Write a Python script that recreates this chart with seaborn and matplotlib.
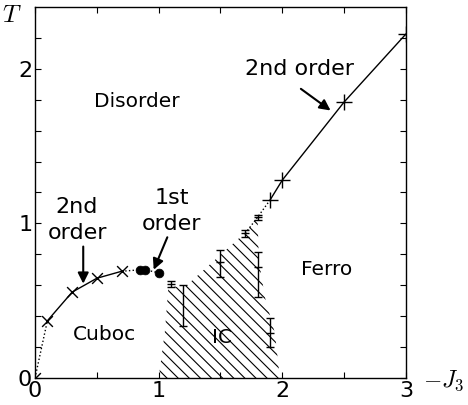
import numpy as np
import pandas as pd
import matplotlib
matplotlib.use("Agg")
import matplotlib.pyplot as plt
import seaborn as sns

# ---- data ----
cuboc_J = [0.0, 0.1, 0.3, 0.5, 0.7]
cuboc_T = [0.0, 0.37, 0.555, 0.645, 0.69]
first_J = [0.85, 0.89, 1.0]
first_T = [0.70, 0.70, 0.68]
ferro_J = [1.9, 2.0, 2.5, 3.0]
ferro_T = [1.15, 1.28, 1.785, 2.225]
link_J = [1.7, 1.8, 1.9]
link_T = [0.935, 1.04, 1.15]
err_J = [1.1, 1.5, 1.7, 1.8, 1.8, 1.9]
err_T = [0.61, 0.75, 0.935, 1.04, 0.72, 0.29]
err_lo = [0.02, 0.10, 0.022, 0.016, 0.195, 0.09]
err_hi = [0.02, 0.076, 0.022, 0.016, 0.095, 0.10]
bar_J = [1.2]
bar_T = [0.4675]
bar_err = [0.1325]
ic_J = [1.0, 1.05, 1.08, 1.2, 1.7, 1.8, 1.81, 1.86, 1.94, 1.98]
ic_T = [0.0, 0.3, 0.6, 0.58, 0.94, 1.04, 0.76, 0.52, 0.29, 0.0]

sns.set_style("ticks")
plt.rcParams["font.family"] = ["DejaVu Sans"]
plt.rcParams["mathtext.fontset"] = "cm"
plt.rcParams["hatch.linewidth"] = 0.8
plt.rcParams["text.color"] = "black"
plt.rcParams["xtick.color"] = "black"
plt.rcParams["ytick.color"] = "black"
plt.rcParams["xtick.labelcolor"] = "black"
plt.rcParams["ytick.labelcolor"] = "black"

fig = plt.figure(figsize=(4.68, 4.05), dpi=100)
ax = fig.add_axes([0.0748, 0.0667, 0.7927, 0.9163])

# IC hatched region
ax.fill(ic_J, ic_T, facecolor="none", edgecolor="black", hatch="\\\\\\", linewidth=0)

df_c = pd.DataFrame({"J": cuboc_J, "T": cuboc_T})
ax.plot(cuboc_J[:2], cuboc_T[:2], ls=":", color="k", lw=1)
sns.lineplot(data=df_c.iloc[1:], x="J", y="T", ax=ax, color="k", lw=1, sort=False)
sns.scatterplot(data=df_c, x="J", y="T", ax=ax, marker="x", s=60, color="k", linewidth=1, zorder=5)
ax.plot([cuboc_J[-1]] + first_J, [cuboc_T[-1]] + first_T, ls=":", color="k", lw=1)
sns.scatterplot(x=first_J, y=first_T, ax=ax, marker="o", s=40, color="k", edgecolor="k", zorder=5)

df_f = pd.DataFrame({"J": ferro_J, "T": ferro_T})
sns.lineplot(data=df_f, x="J", y="T", ax=ax, color="k", lw=1, sort=False)
ax.plot(ferro_J, ferro_T, ls="none", marker="+", ms=12, mew=1, color="k")
ax.plot(link_J, link_T, ls=":", color="k", lw=1)

ax.errorbar(err_J, err_T, yerr=[err_lo, err_hi], fmt="_", ms=6, mew=1, color="k",
            ecolor="k", elinewidth=1, capsize=3, capthick=1, zorder=6)
ax.errorbar(bar_J, bar_T, yerr=bar_err, fmt="none", ecolor="k", elinewidth=1,
            capsize=3, capthick=1, zorder=6)

ax.set_xlim(0, 3)
ax.set_ylim(0, 2.4)
ax.set_xticks([0, 1, 2, 3])
ax.set_xticks([0.5, 1.5, 2.5], minor=True)
ax.set_yticks([0, 1, 2])
ax.set_yticks([0.2, 0.4, 0.6, 0.8, 1.2, 1.4, 1.6, 1.8, 2.2], minor=True)
ax.tick_params(which="both", direction="in", length=4, width=0.8, top=True, right=True,
               labelsize=16, pad=2, color="k", labelcolor="k")
ax.set_xlabel("")
ax.set_ylabel("")
for s in ax.spines.values():
    s.set_visible(True)
    s.set_color("k")
    s.set_linewidth(1)

fig.text(0.026, 0.963, "$T$", fontsize=18, ha="center", va="center")
fig.text(0.947, 0.060, "$-J_3$", fontsize=17, ha="center", va="center")

ax.text(0.82, 1.79, "Disorder", fontsize=14.5, ha="center", va="center")
ax.text(0.56, 0.28, "Cuboc", fontsize=14.5, ha="center", va="center")
ax.text(1.51, 0.26, "IC", fontsize=14.5, ha="center", va="center")
ax.text(2.36, 0.70, "Ferro", fontsize=14.5, ha="center", va="center")

arrow = dict(arrowstyle="-|>", color="k", lw=1.5, mutation_scale=16, shrinkA=0, shrinkB=0)
ax.annotate("", xy=(0.39, 0.61), xytext=(0.39, 0.85), arrowprops=arrow)
ax.text(0.34, 1.02, "2nd\norder", fontsize=16, ha="center", va="center", linespacing=1.35)
ax.annotate("", xy=(0.96, 0.70), xytext=(1.07, 0.91), arrowprops=arrow)
ax.text(1.105, 1.08, "1st\norder", fontsize=16, ha="center", va="center", linespacing=1.35)
ax.annotate("", xy=(2.39, 1.73), xytext=(2.15, 1.87), arrowprops=arrow)
ax.text(2.14, 2.0, "2nd order", fontsize=16, ha="center", va="center")

fig.savefig("out.png", dpi=100)
